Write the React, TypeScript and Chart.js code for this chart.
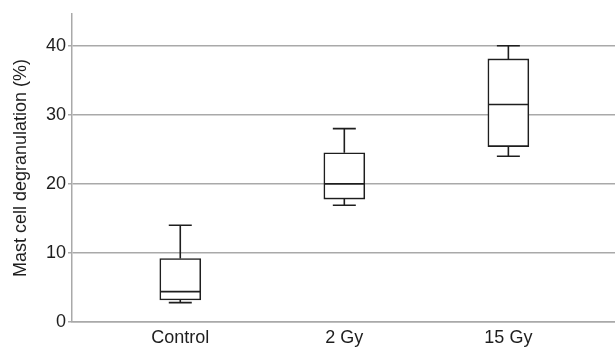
import React, { useEffect, useRef } from "react";
import { Chart, registerables } from "chart.js";

Chart.register(...registerables);

const categories = ["Control", "2 Gy", "15 Gy"];
const whiskerMin = [2.8, 16.9, 24];
const q1 = [3.2, 17.8, 25.4];
const median = [4.4, 20, 31.5];
const q3 = [9.2, 24.5, 38.1];
const whiskerMax = [14, 28, 40];
const yTicks = [0, 10, 20, 30, 40];

const FONT = "'Liberation Sans', Arial, sans-serif";
const GRID = "#a9a9a9";
const INK = "#1e1e1e";

const boxPlugin = {
  id: "boxWhiskers",
  afterDatasetsDraw(chart: any) {
    const { ctx, scales } = chart;
    const xs = scales.x;
    const ys = scales.y;
    ctx.save();
    ctx.strokeStyle = INK;
    ctx.lineWidth = 1.6;
    categories.forEach((_, i) => {
      const cx = xs.getPixelForValue(i);
      const half = 20;
      const cap = 11.5;
      const yMin = ys.getPixelForValue(whiskerMin[i]);
      const yQ1 = ys.getPixelForValue(q1[i]);
      const yMed = ys.getPixelForValue(median[i]);
      const yQ3 = ys.getPixelForValue(q3[i]);
      const yMax = ys.getPixelForValue(whiskerMax[i]);
      ctx.beginPath();
      ctx.moveTo(cx, yQ3);
      ctx.lineTo(cx, yMax);
      ctx.moveTo(cx - cap, yMax);
      ctx.lineTo(cx + cap, yMax);
      ctx.moveTo(cx, yQ1);
      ctx.lineTo(cx, yMin);
      ctx.moveTo(cx - cap, yMin);
      ctx.lineTo(cx + cap, yMin);
      ctx.moveTo(cx - half, yMed);
      ctx.lineTo(cx + half, yMed);
      ctx.stroke();
    });
    ctx.restore();
  },
};

export default function App() {
  const ref = useRef<HTMLCanvasElement | null>(null);
  useEffect(() => {
    if (!ref.current) return;
    const chart = new Chart(ref.current, {
      type: "bar",
      data: {
        datasets: [
          {
            data: categories.map((_, i) => ({ x: i, y: [q1[i], q3[i]] })) as any,
            backgroundColor: "#ffffff",
            borderColor: INK,
            borderWidth: 1.6,
            borderSkipped: false,
            barThickness: 41,
          },
        ],
      },
      options: {
        animation: false,
        responsive: true,
        maintainAspectRatio: false,
        layout: { padding: { top: 14, right: 0, left: 0, bottom: 0 } },
        plugins: { legend: { display: false }, tooltip: { enabled: false } },
        scales: {
          x: {
            type: "linear",
            offset: false,
            min: -0.66,
            max: 2.65,
            afterBuildTicks: (s: any) => {
              s.ticks = categories.map((_, i) => ({ value: i }));
            },
            afterFit: (s: any) => {
              s.height = 25;
            },
            grid: { display: true, drawOnChartArea: false, drawTicks: false },
            border: { display: true, color: GRID, width: 1.5 },
            ticks: {
              padding: 5,
              color: INK,
              font: { family: FONT, size: 18 },
              maxRotation: 0,
              autoSkip: false,
              callback: (v: any) => categories[v as number] ?? "",
            },
          },
          y: {
            min: 0,
            max: 44.6,
            afterBuildTicks: (s: any) => {
              s.ticks = yTicks.map((v) => ({ value: v }));
            },
            afterFit: (s: any) => {
              s.width = 72;
            },
            grid: { color: GRID, lineWidth: 1.5, tickLength: 4 },
            border: { display: true, color: GRID, width: 1.5 },
            ticks: {
              padding: 2,
              color: INK,
              font: { family: FONT, size: 18 },
            },
            title: {
              display: true,
              text: "Mast cell degranulation (%)",
              color: INK,
              font: { family: FONT, size: 18 },
              padding: { top: 10, bottom: 0 },
            },
          },
        },
      },
      plugins: [boxPlugin],
    });
    return () => chart.destroy();
  }, []);
  return (
    <div style={{ position: "absolute", left: 0, top: 0, width: 615, height: 347, background: "#fff" }}>
      <canvas ref={ref} />
    </div>
  );
}
